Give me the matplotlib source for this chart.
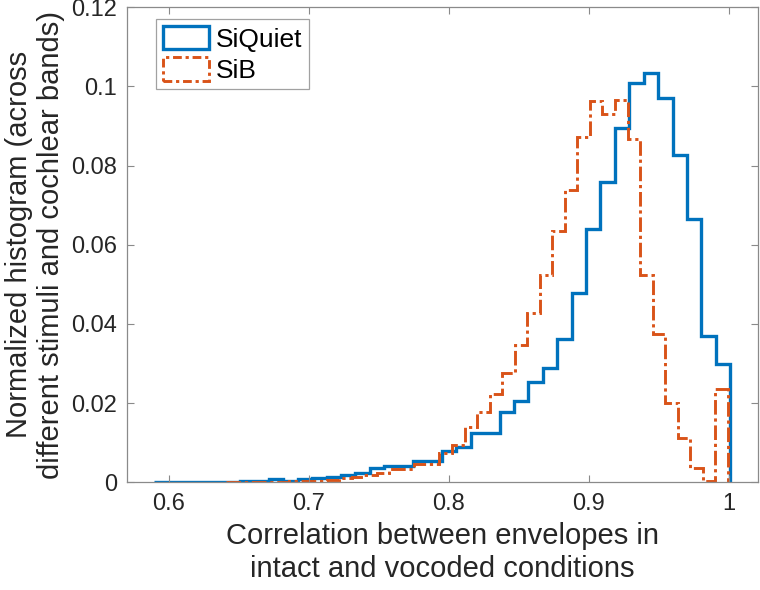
import numpy as np
import matplotlib
matplotlib.use("Agg")
import matplotlib.pyplot as plt
from matplotlib.patches import Patch

# ---- data (probability-normalised histograms, 40 bins each) ----
siquiet_range = (0.5893, 1.0009)
siquiet_vals = [0.0001, 0.0001, 0.0000, 0.0001, 0.0001, 0.0001, 0.0003, 0.0003,
                0.0008, 0.0003, 0.0008, 0.0010, 0.0014, 0.0019, 0.0024, 0.0036,
                0.0041, 0.0041, 0.0055, 0.0055, 0.0079, 0.0090, 0.0124, 0.0124,
                0.0177, 0.0205, 0.0253, 0.0288, 0.0361, 0.0479, 0.0639, 0.0759,
                0.0895, 0.1010, 0.1035, 0.0970, 0.0828, 0.0664, 0.0369, 0.0300]

sib_range = (0.6412, 0.9992)
sib_vals = [0.0001, 0.0001, 0.0002, 0.0002, 0.0002, 0.0003, 0.0003, 0.0004,
            0.0006, 0.0011, 0.0013, 0.0018, 0.0023, 0.0033, 0.0033, 0.0046,
            0.0047, 0.0073, 0.0094, 0.0140, 0.0178, 0.0224, 0.0275, 0.0347,
            0.0427, 0.0523, 0.0635, 0.0738, 0.0873, 0.0963, 0.0930, 0.0967,
            0.0867, 0.0523, 0.0374, 0.0201, 0.0111, 0.0035, 0.0004, 0.0236]

series_names = ["SiQuiet", "SiB"]
x_ticks = [0.6, 0.7, 0.8, 0.9, 1.0]
x_tick_labels = ["0.6", "0.7", "0.8", "0.9", "1"]
y_ticks = [0, 0.02, 0.04, 0.06, 0.08, 0.1, 0.12]
y_tick_labels = ["0", "0.02", "0.04", "0.06", "0.08", "0.1", "0.12"]

blue = "#0072BD"
orange = "#D95319"
axcol = "#8a8a8a"
txtcol = "#262626"

plt.rcParams['font.family'] = ['Liberation Sans', 'DejaVu Sans']

fig = plt.figure(figsize=(7.6, 5.9), dpi=100)
ax = fig.add_axes([0.1667, 0.1825, 0.8311, 0.8051])

e1 = np.linspace(siquiet_range[0], siquiet_range[1], len(siquiet_vals) + 1)
e2 = np.linspace(sib_range[0], sib_range[1], len(sib_vals) + 1)

ax.stairs(siquiet_vals, e1, baseline=0, color=blue, linewidth=2.4)
ax.stairs(sib_vals, e2, baseline=0, color=orange, linewidth=2.1,
          linestyle=(0, (5, 1.3, 1.1, 1.3)))

ax.set_xlim(0.57, 1.021)
ax.set_ylim(0, 0.12)
ax.set_xticks(x_ticks)
ax.set_xticklabels(x_tick_labels)
ax.set_yticks(y_ticks)
ax.set_yticklabels(y_tick_labels)

ax.tick_params(direction='in', length=5, width=0.8, color=axcol,
               labelsize=17, labelcolor=txtcol, top=True, right=True)
ax.tick_params(axis='x', pad=8)
ax.tick_params(axis='y', pad=7)
for sp in ax.spines.values():
    sp.set_color(axcol)
    sp.set_linewidth(0.9)

ax.set_xlabel("Correlation between envelopes in\nintact and vocoded conditions",
              fontsize=21, color=txtcol, linespacing=1.22, labelpad=5)
ax.set_ylabel("Normalized histogram (across\ndifferent stimuli and cochlear bands)",
              fontsize=21, color=txtcol, linespacing=1.22, labelpad=4)

handles = [Patch(facecolor='none', edgecolor=blue, linewidth=2.4),
           Patch(facecolor='none', edgecolor=orange, linewidth=2.1,
                 linestyle=(0, (3, 1.3, 1.1, 1.3)))]
leg = ax.legend(handles, series_names, loc='upper left',
                bbox_to_anchor=(0.047, 0.975), fontsize=19,
                frameon=True, fancybox=False, edgecolor=axcol,
                handlelength=1.75, handleheight=1.0, handletextpad=0.25,
                borderpad=0.25, labelspacing=0.2, borderaxespad=0)
leg.get_frame().set_linewidth(0.9)

fig.savefig("out.png", dpi=100)
